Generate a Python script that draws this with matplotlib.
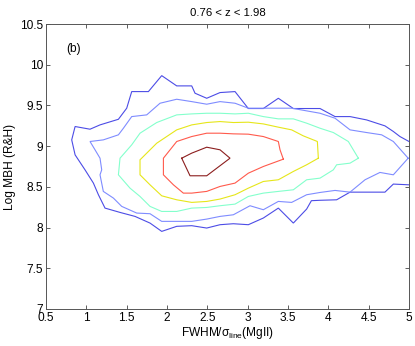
import matplotlib
matplotlib.use("Agg")
import matplotlib.pyplot as plt

plt.rcParams['font.family'] = ['Liberation Sans', 'DejaVu Sans']
plt.rcParams['mathtext.fontset'] = 'custom'
plt.rcParams['mathtext.rm'] = 'Liberation Sans'
plt.rcParams['mathtext.it'] = 'Liberation Sans:italic'
plt.rcParams['mathtext.sf'] = 'Liberation Sans'

title = "0.76 < z < 1.98"
panel_label = "(b)"
x_label = r"FWHM/$\mathregular{\sigma_{line}}$(MgII)"
y_label = "Log MBH (R&H)"
x_ticks = [0.5, 1, 1.5, 2, 2.5, 3, 3.5, 4, 4.5, 5]
x_tick_labels = ["0.5", "1", "1.5", "2", "2.5", "3", "3.5", "4", "4.5", "5"]
y_ticks = [7, 7.5, 8, 8.5, 9, 9.5, 10, 10.5]
y_tick_labels = ["7", "7.5", "8", "8.5", "9", "9.5", "10", "10.5"]

# contour level 1 (outermost, open at right edge)
c1_x = [5.0, 4.888, 4.806, 4.702, 4.599, 4.475, 4.269, 4.083, 3.897, 3.566, 3.38, 3.194,
        3.008, 2.843, 2.657, 2.492, 2.347, 2.306, 2.12, 1.934, 1.769, 1.562, 1.5, 1.397,
        1.169, 1.045, 0.86, 0.818, 0.86, 0.983, 1.087, 1.149, 1.231, 1.417, 1.603, 1.789,
        1.934, 2.12, 2.306, 2.492, 2.657, 2.822, 3.008, 3.194, 3.38, 3.566, 3.731, 3.79,
        3.897, 4.103, 4.269, 4.702, 4.806, 5.0]
c1_y = [9.057, 9.118, 9.18, 9.249, 9.282, 9.322, 9.363, 9.363, 9.462, 9.462, 9.588, 9.462,
        9.462, 9.67, 9.658, 9.588, 9.65, 9.74, 9.74, 9.866, 9.67, 9.67, 9.466, 9.33,
        9.261, 9.208, 9.241, 9.077, 8.893, 8.709, 8.546, 8.403, 8.239, 8.186, 8.137, 8.055,
        7.953, 8.015, 8.023, 7.994, 8.035, 8.047, 8.035, 8.117, 8.239, 8.055, 8.227, 8.33,
        8.335, 8.341, 8.435, 8.435, 8.534, 8.525]

# contour level 2
c2_x = [4.99, 4.806, 4.661, 4.475, 4.269, 4.083, 3.897, 3.545, 3.38, 3.008, 2.843, 2.657,
        2.492, 2.306, 2.12, 1.913, 1.748, 1.562, 1.459, 1.397, 1.21, 1.045, 1.107, 1.169,
        1.19, 1.169, 1.21, 1.335, 1.438, 1.624, 1.789, 1.934, 2.12, 2.306, 2.492, 2.657,
        2.822, 3.029, 3.194, 3.38, 3.545, 3.731, 3.897, 4.083, 4.269, 4.455, 4.64, 4.806, 4.99]
c2_y = [8.852, 9.057, 9.139, 9.167, 9.2, 9.343, 9.404, 9.466, 9.466, 9.466, 9.527, 9.547,
        9.515, 9.547, 9.576, 9.527, 9.384, 9.363, 9.22, 9.139, 9.077, 9.057, 8.955, 8.852,
        8.709, 8.648, 8.444, 8.362, 8.26, 8.178, 8.17, 8.076, 8.076, 8.076, 8.104, 8.137,
        8.157, 8.268, 8.219, 8.321, 8.309, 8.403, 8.431, 8.456, 8.435, 8.587, 8.677, 8.648, 8.852]

# contour level 3
c3_x = [4.372, 4.248, 4.062, 3.897, 3.731, 3.566, 3.38, 3.194, 3.008, 2.843, 2.657, 2.492,
        2.306, 2.12, 1.872, 1.665, 1.562, 1.417, 1.397, 1.541, 1.665, 1.789, 1.934, 2.12,
        2.306, 2.492, 2.657, 2.843, 3.008, 3.194, 3.38, 3.566, 3.731, 3.897, 4.062, 4.103,
        4.269, 4.372]
c3_y = [8.852, 9.057, 9.167, 9.22, 9.282, 9.335, 9.335, 9.363, 9.404, 9.396, 9.404, 9.404,
        9.396, 9.384, 9.29, 9.159, 9.016, 8.852, 8.648, 8.484, 8.382, 8.26, 8.198, 8.198,
        8.239, 8.247, 8.268, 8.288, 8.382, 8.423, 8.444, 8.464, 8.587, 8.607, 8.709, 8.771,
        8.791, 8.852]

# contour level 4
c4_x = [3.876, 3.864, 3.69, 3.545, 3.38, 3.194, 3.008, 2.822, 2.657, 2.492, 2.306, 2.12,
        1.872, 1.665, 1.665, 1.789, 1.934, 2.12, 2.306, 2.492, 2.657, 2.843, 3.008, 3.194,
        3.38, 3.566, 3.731, 3.876]
c4_y = [8.852, 9.057, 9.126, 9.2, 9.233, 9.273, 9.294, 9.29, 9.302, 9.29, 9.261, 9.2,
        9.036, 8.832, 8.648, 8.525, 8.39, 8.341, 8.309, 8.321, 8.35, 8.403, 8.484, 8.566,
        8.587, 8.689, 8.771, 8.852]

# contour level 5
c5_x = [3.442, 3.401, 3.38, 3.194, 3.008, 2.822, 2.657, 2.492, 2.306, 2.12, 1.955, 1.955,
        2.079, 2.202, 2.306, 2.492, 2.657, 2.843, 3.008, 3.194, 3.442]
c5_y = [8.84, 8.955, 9.057, 9.118, 9.147, 9.151, 9.159, 9.159, 9.118, 9.057, 8.852, 8.648,
        8.525, 8.423, 8.423, 8.444, 8.505, 8.546, 8.668, 8.75, 8.84]

# contour level 6 (innermost)
c6_x = [2.182, 2.306, 2.492, 2.657, 2.781, 2.492, 2.285, 2.182]
c6_y = [8.852, 8.914, 8.987, 8.955, 8.852, 8.636, 8.636, 8.852]

contours_x = [c1_x, c2_x, c3_x, c4_x, c5_x, c6_x]
contours_y = [c1_y, c2_y, c3_y, c4_y, c5_y, c6_y]
colors = ["#4c4ce6", "#7f8cff", "#84ffcc", "#e6e61a", "#ff5a4c", "#8c1e1e"]

fig = plt.figure(figsize=(4.15, 3.46), dpi=100)
ax = fig.add_axes([0.111, 0.107, 0.8745, 0.8236])

for xs, ys, c in zip(contours_x, contours_y, colors):
    ax.plot(xs, ys, color=c, lw=0.8, solid_joinstyle='miter')

ax.set_xlim(0.5, 5)
ax.set_ylim(7, 10.5)
ax.set_xticks(x_ticks)
ax.set_xticklabels(x_tick_labels)
ax.set_yticks(y_ticks)
ax.set_yticklabels(y_tick_labels)
ax.tick_params(direction='in', top=True, right=True, length=3, width=0.6,
               labelsize=8.6, pad=2, color='#444444')
for s in ax.spines.values():
    s.set_linewidth(0.7)
    s.set_color('#555555')

ax.set_title(title, fontsize=8.2, pad=6)
ax.set_xlabel(x_label, fontsize=8.6, labelpad=1)
ax.set_ylabel(y_label, fontsize=8.6, labelpad=3)
ax.text(0.847, 10.19, panel_label, fontsize=8.6, ha='center', va='center')

fig.savefig("out.png", dpi=100)
